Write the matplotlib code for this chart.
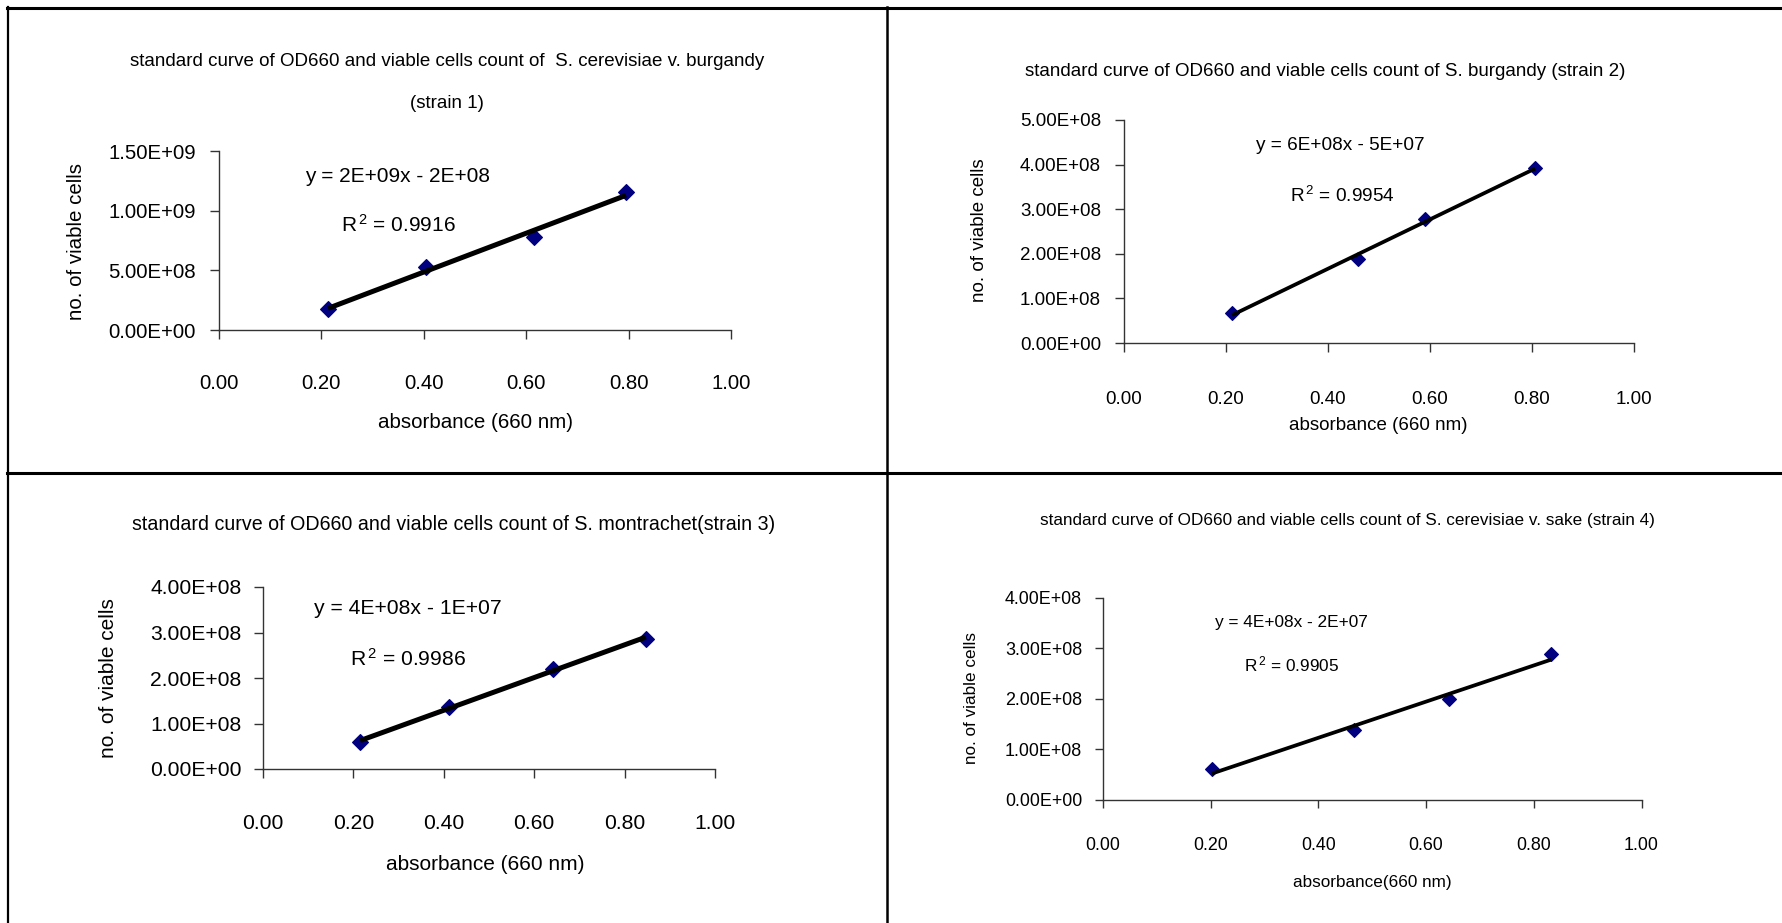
import numpy as np
import matplotlib
matplotlib.use("Agg")
import matplotlib.pyplot as plt
from matplotlib.lines import Line2D
from matplotlib.ticker import FixedLocator, FuncFormatter

plt.rcParams['font.family'] = ['Liberation Sans', 'DejaVu Sans']
plt.rcParams['mathtext.fontset'] = 'custom'
plt.rcParams['mathtext.rm'] = 'Liberation Sans'
plt.rcParams['mathtext.it'] = 'Liberation Sans'
plt.rcParams['mathtext.bf'] = 'Liberation Sans'

# ---------------- data ----------------
title_lines_1 = ["standard curve of OD660 and viable cells count of  S. cerevisiae v. burgandy", "(strain 1)"]
title_lines_2 = ["standard curve of OD660 and viable cells count of S. burgandy (strain 2)"]
title_lines_3 = ["standard curve of OD660 and viable cells count of S. montrachet(strain 3)"]
title_lines_4 = ["standard curve of OD660 and viable cells count of S. cerevisiae v. sake (strain 4)"]

xlabel_1 = "absorbance (660 nm)"
xlabel_2 = "absorbance (660 nm)"
xlabel_3 = "absorbance (660 nm)"
xlabel_4 = "absorbance(660 nm)"
ylabel_all = "no. of viable cells"

x_ticks = [0.0, 0.2, 0.4, 0.6, 0.8, 1.0]
y_ticks_1 = [0.0, 5e8, 1e9, 1.5e9]
y_ticks_2 = [0.0, 1e8, 2e8, 3e8, 4e8, 5e8]
y_ticks_3 = [0.0, 1e8, 2e8, 3e8, 4e8]
y_ticks_4 = [0.0, 1e8, 2e8, 3e8, 4e8]

strain1_od = [0.213, 0.405, 0.615, 0.795]
strain1_cells = [1.76e8, 5.28e8, 7.79e8, 1.156e9]
strain2_od = [0.212, 0.459, 0.591, 0.806]
strain2_cells = [0.67e8, 1.88e8, 2.78e8, 3.92e8]
strain3_od = [0.215, 0.411, 0.641, 0.847]
strain3_cells = [0.59e8, 1.36e8, 2.20e8, 2.86e8]
strain4_od = [0.202, 0.466, 0.643, 0.832]
strain4_cells = [0.60e8, 1.37e8, 1.99e8, 2.89e8]

equation_1 = "y = 2E+09x - 2E+08"
equation_2 = "y = 6E+08x - 5E+07"
equation_3 = "y = 4E+08x - 1E+07"
equation_4 = "y = 4E+08x - 2E+07"
r2_1 = "0.9916"
r2_2 = "0.9954"
r2_3 = "0.9986"
r2_4 = "0.9905"

# ---------------- layout (pixels) ----------------
W, H = 1782, 923
fig = plt.figure(figsize=(W / 100, H / 100), dpi=100)
fig.patch.set_facecolor('white')

def fx(x):
    return x / W

def fy(y):
    return 1 - y / H

PT = 0.72  # points per pixel at 100 dpi

panels = [
    dict(od=strain1_od, cells=strain1_cells, yt=y_ticks_1, title=title_lines_1,
         title_xy=[(447, 62), (447, 103)], title_fs=13.5,
         box=(219, 151, 731, 330), tick_fs=14.7, ticklen=9, xpad_center=385, ypad=14,
         xlabel=xlabel_1, xlabel_xy=(475, 422), ylabel_xy=(76, 241), label_fs=14.8,
         eq=equation_1, r2=r2_1, eq_xy=(398, 176), r2_xy=(398, 225), eq_fs=15,
         lw=3.6, ms=7.8),
    dict(od=strain2_od, cells=strain2_cells, yt=y_ticks_2, title=title_lines_2,
         title_xy=[(1325, 72)], title_fs=13.5,
         box=(1124, 120, 1634, 343), tick_fs=13.5, ticklen=9, xpad_center=402, ypad=14,
         xlabel=xlabel_2, xlabel_xy=(1378, 425), ylabel_xy=(979, 230), label_fs=13.5,
         eq=equation_2, r2=r2_2, eq_xy=(1340, 145), r2_xy=(1342, 196), eq_fs=13.7,
         lw=2.7, ms=7.4),
    dict(od=strain3_od, cells=strain3_cells, yt=y_ticks_3, title=title_lines_3,
         title_xy=[(454, 524)], title_fs=14.1,
         box=(263, 587, 715, 769), tick_fs=15.2, ticklen=9, xpad_center=826, ypad=12.5,
         xlabel=xlabel_3, xlabel_xy=(485, 864), ylabel_xy=(108, 678), label_fs=15,
         eq=equation_3, r2=r2_3, eq_xy=(408, 608), r2_xy=(408, 659), eq_fs=15.2,
         lw=3.6, ms=7.8),
    dict(od=strain4_od, cells=strain4_cells, yt=y_ticks_4, title=title_lines_4,
         title_xy=[(1347, 521)], title_fs=12.3,
         box=(1103, 598, 1641.5, 799.5), tick_fs=12.9, ticklen=8, xpad_center=847, ypad=13,
         xlabel=xlabel_4, xlabel_xy=(1372, 883), ylabel_xy=(971, 698), label_fs=12.3,
         eq=equation_4, r2=r2_4, eq_xy=(1291, 623), r2_xy=(1292, 664), eq_fs=12.4,
         lw=2.7, ms=7.2),
]

axis_color = '#333333'
marker_color = '#000080'

for p in panels:
    l, t, r, b = p['box']
    ax = fig.add_axes([fx(l), fy(b), (r - l) / W, (b - t) / H])
    ax.set_facecolor('none')
    od = np.array(p['od'])
    cells = np.array(p['cells'])
    ax.plot(od, cells, linestyle='none', marker='D', ms=p['ms'],
            mfc=marker_color, mec=marker_color, mew=0.8, zorder=3, clip_on=False)
    slope, intercept = np.polyfit(od, cells, 1)
    xx = np.array([od.min(), od.max()])
    ax.plot(xx, slope * xx + intercept, color='black', lw=p['lw'],
            solid_capstyle='butt', zorder=4, clip_on=False)

    ax.set_xlim(0, 1)
    ax.set_ylim(0, p['yt'][-1])
    ax.xaxis.set_major_locator(FixedLocator(x_ticks))
    ax.yaxis.set_major_locator(FixedLocator(p['yt']))
    ax.xaxis.set_major_formatter(FuncFormatter(lambda v, pos: f"{v:.2f}"))
    ax.yaxis.set_major_formatter(FuncFormatter(lambda v, pos: f"{v:.2E}"))
    for side in ['top', 'right']:
        ax.spines[side].set_visible(False)
    for side in ['left', 'bottom']:
        ax.spines[side].set_color(axis_color)
        ax.spines[side].set_linewidth(1.0)

    fpx = p['tick_fs'] / PT
    xpad_px = p['xpad_center'] - b - p['ticklen'] - 0.56 * fpx
    ax.tick_params(axis='x', direction='out', length=p['ticklen'] * PT, width=1.0,
                   color=axis_color, labelsize=p['tick_fs'], pad=xpad_px * PT)
    ax.tick_params(axis='y', direction='out', length=p['ticklen'] * PT, width=1.0,
                   color=axis_color, labelsize=p['tick_fs'], pad=p['ypad'] * PT)

    for line, (tx, ty) in zip(p['title'], p['title_xy']):
        fig.text(fx(tx), fy(ty), line, ha='center', va='center', fontsize=p['title_fs'])
    fig.text(fx(p['xlabel_xy'][0]), fy(p['xlabel_xy'][1]), p['xlabel'],
             ha='center', va='center', fontsize=p['label_fs'])
    fig.text(fx(p['ylabel_xy'][0]), fy(p['ylabel_xy'][1]), ylabel_all,
             ha='center', va='center', rotation=90, fontsize=p['label_fs'])
    fig.text(fx(p['eq_xy'][0]), fy(p['eq_xy'][1]), p['eq'],
             ha='center', va='center', fontsize=p['eq_fs'])
    fig.text(fx(p['r2_xy'][0]), fy(p['r2_xy'][1]), r"R$^{\,2}$ = " + p['r2'],
             ha='center', va='center', fontsize=p['eq_fs'])

# page frame lines
frame = [
    ((7, 1782), (8, 8), 2.2),
    ((8, 8), (7, 923), 1.6),
    ((887, 887), (7, 923), 1.8),
    ((7, 1782), (473, 473), 2.2),
]
for xs, ys, lw in frame:
    fig.add_artist(Line2D([fx(xs[0]), fx(xs[1])], [fy(ys[0]), fy(ys[1])],
                          transform=fig.transFigure, color='black', lw=lw))

fig.savefig('out.png', dpi=100, facecolor='white')
